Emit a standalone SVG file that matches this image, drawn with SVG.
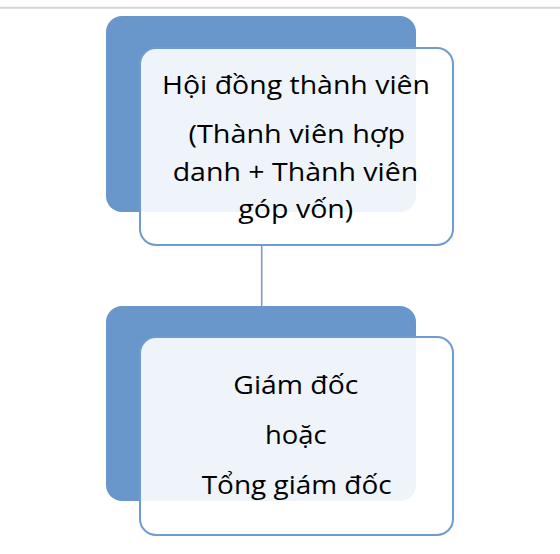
<svg xmlns="http://www.w3.org/2000/svg" width="560" height="554" viewBox="0 0 560 554">
<style>
.back{fill:#6997cc;}
.front{fill:#ffffff;fill-opacity:0.89;stroke:#6f9bd0;stroke-width:2;}
.t{font-family:"Open Sans","Noto Sans","Liberation Sans",sans-serif;font-size:25px;fill:#000000;}
.conn{stroke:#7b9cc8;stroke-width:1.6;fill:none;}
</style>
<rect x="0" y="0" width="560" height="554" fill="#ffffff"/>
<line x1="0" y1="7.8" x2="560" y2="7.8" stroke="#d6d6d6" stroke-width="2"/>
<g id="connectors">
<line class="conn" x1="261.7" y1="245" x2="261.7" y2="306"/>
</g>
<g id="node-hoi-dong">
<rect class="back" x="106" y="16" width="310" height="196" rx="16"/>
<rect class="front" x="140" y="48" width="313" height="197" rx="16"/>
<text class="t" x="162" y="94" textLength="268" lengthAdjust="spacingAndGlyphs">Hội đồng thành viên</text>
<text class="t" x="188.5" y="143" textLength="216.5" lengthAdjust="spacingAndGlyphs">(Thành viên hợp</text>
<text class="t" x="172.7" y="181" textLength="245.6" lengthAdjust="spacingAndGlyphs">danh + Thành viên</text>
<text class="t" x="238.3" y="218" textLength="115" lengthAdjust="spacingAndGlyphs">góp vốn)</text>
</g>
<g id="node-giam-doc">
<rect class="back" x="106" y="306" width="310" height="195" rx="16"/>
<rect class="front" x="140" y="337" width="313" height="198" rx="16"/>
<text class="t" x="233.3" y="394" textLength="125" lengthAdjust="spacingAndGlyphs">Giám đốc</text>
<text class="t" x="265" y="444" textLength="61.7" lengthAdjust="spacingAndGlyphs">hoặc</text>
<text class="t" x="201.7" y="494" textLength="190" lengthAdjust="spacingAndGlyphs">Tổng giám đốc</text>
</g>
</svg>
